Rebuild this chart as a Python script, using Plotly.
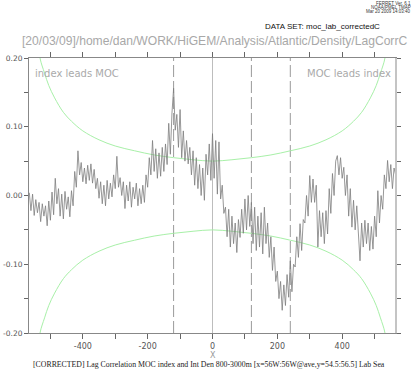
import plotly.graph_objects as go

# ---------------- data ----------------
lags = list(range(-565, 570, 5))
corr = [
    0.004, -0.022, 0.002, -0.029, -0.006, -0.025, -0.010, -0.038, -0.012, -0.030,
    -0.015, -0.044, -0.008, -0.036, 0.005, -0.028, 0.025, -0.012, 0.010, -0.030,
    0.002, -0.034, 0.006, -0.020, -0.002, -0.031, 0.007, -0.015, 0.035, 0.012,
    0.065, 0.030, 0.048, 0.020, 0.040, 0.017, 0.044, 0.022, 0.046, 0.018,
    0.038, 0.010, 0.025, -0.004, 0.020, -0.012, 0.015, -0.015, 0.022, -0.005,
    0.018, -0.002, 0.030, 0.010, 0.057, 0.012, 0.026, 0.000, 0.020, -0.019,
    0.015, -0.008, 0.020, -0.017, 0.012, -0.005, 0.018, -0.015, 0.010, -0.012,
    0.015, -0.010, 0.030, 0.012, 0.055, 0.030, 0.080, 0.035, 0.068, 0.025,
    0.062, 0.028, 0.070, 0.035, 0.075, 0.045, 0.105, 0.060, 0.120, 0.156,
    0.095, 0.118, 0.070, 0.125, 0.055, 0.094, 0.050, 0.080, 0.046, 0.070,
    0.030, 0.065, 0.015, 0.055, 0.010, 0.045, 0.000, 0.040, -0.007, 0.060,
    0.030, 0.075, 0.022, 0.090, 0.025, 0.080, 0.002, 0.078, -0.005, 0.015,
    -0.026, -0.017, -0.060, -0.020, -0.075, -0.030, -0.070, -0.040, -0.083, -0.035,
    -0.061, -0.020, -0.055, -0.005, -0.050, 0.000, -0.045, -0.010, -0.070, -0.017,
    -0.080, -0.030, -0.075, -0.025, -0.085, -0.017, -0.070, -0.040, -0.090, -0.060,
    -0.109, -0.075, -0.125, -0.110, -0.150, -0.125, -0.167, -0.130, -0.160, -0.115,
    -0.148, -0.095, -0.140, -0.100, -0.104, -0.060, -0.090, -0.041, -0.080, -0.035,
    -0.040, 0.000, -0.030, 0.029, -0.010, 0.024, -0.010, 0.015, -0.075, -0.022,
    -0.060, -0.025, -0.070, -0.022, -0.056, 0.010, -0.026, 0.032, 0.000, 0.050,
    0.058, 0.030, 0.055, 0.025, 0.041, 0.000, 0.030, -0.030, 0.010, -0.046,
    -0.007, -0.050, -0.015, -0.065, -0.095, -0.040, -0.075, -0.036, -0.070, -0.040,
    -0.080, -0.045, -0.078, -0.030, -0.060, 0.007, -0.040, 0.000, -0.020, 0.030,
    0.010, 0.051, 0.020, 0.045, 0.010, 0.040, 0.030,
]

sig_lags = [-540, -532, -518, -505, -487, -460, -435, -400, -350, -300, -240, -180, -120, -60,
            0, 60, 120, 180, 240, 300, 350, 400, 435, 460, 487, 505, 518, 532, 540]
sig_upper = [0.24, 0.200, 0.178, 0.160, 0.142, 0.121, 0.108, 0.094, 0.081, 0.072, 0.065, 0.059, 0.055, 0.052,
             0.050, 0.052, 0.055, 0.059, 0.065, 0.072, 0.081, 0.094, 0.108, 0.121, 0.142, 0.160, 0.178, 0.200, 0.24]
sig_lower = [-0.24, -0.200, -0.178, -0.160, -0.142, -0.121, -0.108, -0.094, -0.081, -0.072, -0.065, -0.059, -0.055, -0.052,
             -0.050, -0.052, -0.055, -0.059, -0.065, -0.072, -0.081, -0.094, -0.108, -0.121, -0.142, -0.160, -0.178, -0.200, -0.24]

dashed_lags = [-120, 120, 240]
zero_lag = 0

x_tickvals = [-500, -400, -300, -200, -100, 0, 100, 200, 300, 400, 500]
x_ticktext = ["", "-400", "", "-200", "", "0", "", "200", "", "400", ""]
y_tickvals = [-0.20, -0.15, -0.10, -0.05, 0.00, 0.05, 0.10, 0.15, 0.20]
y_ticktext = ["-0.20", "", "-0.10", "", "0.00", "", "0.10", "", "0.20"]

title_text = "[20/03/09]/home/dan/WORK/HiGEM/Analysis/Atlantic/Density/LagCorrC"
dataset_text = "DATA SET: moc_lab_correctedC"
ferret_lines = ["FERRET Ver. 6.1", "NOAA/PMEL TMAP", "Mar 20 2009 14:03:40"]
left_note = "index leads MOC"
right_note = "MOC leads index"
caption = "[CORRECTED] Lag Correlation MOC index and Int Den 800-3000m [x=56W:56W@ave,y=54.5:56.5] Lab Sea"

# ---------------- figure ----------------
fig = go.Figure()

fig.add_trace(go.Scatter(x=sig_lags, y=sig_upper, mode="lines", line=dict(color="#a8f0a8", width=1, shape="spline"),
                         hoverinfo="skip", showlegend=False))
fig.add_trace(go.Scatter(x=sig_lags, y=sig_lower, mode="lines", line=dict(color="#a8f0a8", width=1, shape="spline"),
                         hoverinfo="skip", showlegend=False))
fig.add_trace(go.Scatter(x=lags, y=corr, mode="lines", line=dict(color="#7d7d7d", width=0.8),
                         showlegend=False))

shapes = []
for lg in dashed_lags:
    shapes.append(dict(type="line", xref="x", yref="paper", x0=lg, x1=lg, y0=0, y1=1,
                       line=dict(color="#9a9a9a", width=1, dash="12px,4px"), layer="below"))
shapes.append(dict(type="line", xref="x", yref="paper", x0=zero_lag, x1=zero_lag, y0=0, y1=1,
                   line=dict(color="#bdbdbd", width=1), layer="below"))
shapes.append(dict(type="line", xref="paper", yref="paper", x0=1, x1=1, y0=0, y1=1,
                   line=dict(color="#c4c4c4", width=2)))

annotations = [
    dict(text=title_text, x=0.506, y=1.063, xref="paper", yref="paper", showarrow=False,
         xanchor="center", yanchor="middle", font=dict(family="Liberation Sans", size=12.1, color="#a8a8a8")),
    dict(text=dataset_text, x=0.962, y=1.114, xref="paper", yref="paper", showarrow=False,
         xanchor="right", yanchor="middle", font=dict(family="Liberation Sans", size=8, color="#111111")),
    dict(text=left_note, x=0.010, y=0.943, xref="paper", yref="paper", showarrow=False,
         xanchor="left", yanchor="middle", font=dict(family="DejaVu Sans", size=10, color="#aaaaaa")),
    dict(text=right_note, x=0.991, y=0.943, xref="paper", yref="paper", showarrow=False,
         xanchor="right", yanchor="middle", font=dict(family="DejaVu Sans", size=10, color="#aaaaaa")),
    dict(text="X", x=0.5, y=-0.081, xref="paper", yref="paper", showarrow=False,
         xanchor="center", yanchor="middle", font=dict(family="DejaVu Sans", size=8, color="#999999")),
    dict(text=caption, x=0.49, y=-0.116, xref="paper", yref="paper", showarrow=False,
         xanchor="center", yanchor="middle", font=dict(family="Liberation Serif", size=7.8, color="#222222")),
]
for i, t in enumerate(ferret_lines):
    annotations.append(dict(text=t, x=1.046, y=1.200 - 0.0148 * i, xref="paper", yref="paper", showarrow=False,
                            xanchor="right", yanchor="middle",
                            font=dict(family="Liberation Sans", size=4.5, color="#333333")))

fig.update_layout(
    width=420, height=370,
    margin=dict(l=29, r=24, t=58, b=37, pad=0, autoexpand=False),
    paper_bgcolor="white", plot_bgcolor="white",
    shapes=shapes, annotations=annotations,
    xaxis=dict(range=[-566, 566], tickvals=x_tickvals, ticktext=x_ticktext, ticks="outside", ticklen=5,
               tickcolor="#666", showline=True, linecolor="#888", linewidth=1, mirror="ticks", automargin=False,
               showgrid=False, zeroline=False, tickfont=dict(family="DejaVu Sans", size=8, color="#555")),
    yaxis=dict(range=[-0.2, 0.2], tickvals=y_tickvals, ticktext=y_ticktext, ticks="outside", ticklen=4,
               tickcolor="#666", showline=True, linecolor="#888", linewidth=1, mirror="ticks", automargin=False,
               showgrid=False, zeroline=False, tickfont=dict(family="DejaVu Sans", size=7.5, color="#555")),
)

# remove the default 8px page margin so the figure fills the 420x370 window exactly
fig.write_html("out.html", config={"displayModeBar": False},
               post_script="document.body.style.margin='0';")
